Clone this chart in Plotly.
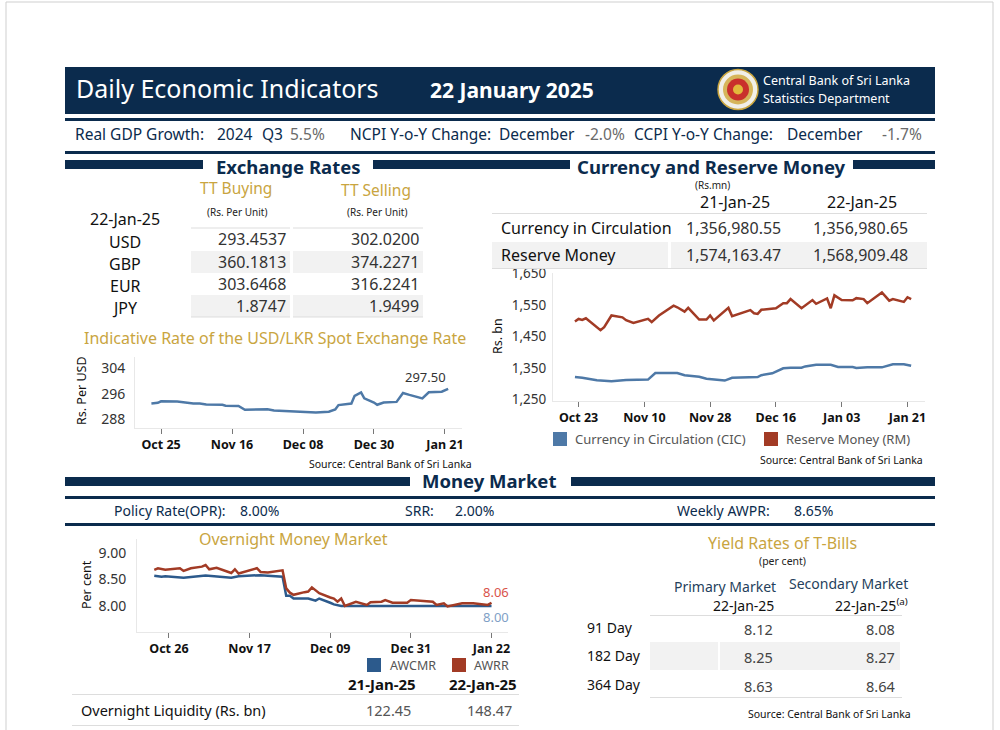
import plotly.graph_objects as go

W, H = 1000, 730
NAVY = "#0b2b4d"
GOLD = "#c9a53f"
FONT = "Noto Sans"

# ---------------- data ----------------
key_row = [("Real GDP Growth:", 73, NAVY), ("2024", 215, NAVY), ("Q3", 260, NAVY), ("5.5%", 288, "#6a6a6a"),
           ("NCPI Y-o-Y Change:", 348, NAVY), ("December", 497, NAVY), ("-2.0%", 583, "#6a6a6a"),
           ("CCPI Y-o-Y Change:", 632, NAVY), ("December", 785, NAVY), ("-1.7%", 880, "#6a6a6a")]
mm_row = [("Policy Rate(OPR):", 112), ("8.00%", 238), ("SRR:", 403), ("2.00%", 453),
          ("Weekly AWPR:", 675), ("8.65%", 792)]

fx_date = "22-Jan-25"
fx_ccy = ["USD", "GBP", "EUR", "JPY"]
tt_buying = [293.4537, 360.1813, 303.6468, 1.8747]
tt_selling = [302.0200, 374.2271, 316.2241, 1.9499]

crm_dates = ["21-Jan-25", "22-Jan-25"]
crm_labels = ["Currency in Circulation", "Reserve Money"]
crm_21 = [1356980.55, 1574163.47]
crm_22 = [1356980.65, 1568909.48]

tb_tenor = ["91 Day", "182 Day", "364 Day"]
tb_primary = [8.12, 8.25, 8.63]
tb_secondary = [8.08, 8.27, 8.64]

liq_dates = ["21-Jan-25", "22-Jan-25"]
liq_vals = [122.45, 148.47]

usd_dates = ["2024-10-22", "2024-10-24", "2024-10-25", "2024-10-30", "2024-11-04", "2024-11-06",
             "2024-11-08", "2024-11-13", "2024-11-14", "2024-11-18", "2024-11-20", "2024-11-27",
             "2024-11-29", "2024-12-06", "2024-12-12", "2024-12-16", "2024-12-18", "2024-12-19",
             "2024-12-23", "2024-12-24", "2024-12-26", "2024-12-27", "2024-12-30", "2024-12-31",
             "2025-01-02", "2025-01-06", "2025-01-08", "2025-01-10", "2025-01-14", "2025-01-16",
             "2025-01-20", "2025-01-22"]
usd_rate = [292.9, 293.1, 293.6, 293.5, 292.9, 292.9, 292.6, 292.5, 292.2, 292.1, 290.9, 291.1,
            290.7, 290.3, 290.1, 290.3, 291.0, 292.4, 292.9, 295.3, 296.4, 294.5, 293.2, 292.5,
            293.2, 293.4, 296.2, 295.6, 294.5, 296.4, 296.6, 297.5]
usd_ticks = ["2024-10-25", "2024-11-16", "2024-12-08", "2024-12-30", "2025-01-21"]
usd_ticktext = ["Oct 25", "Nov 16", "Dec 08", "Dec 30", "Jan 21"]

rm_dates = ["2024-10-22", "2024-10-23", "2024-10-24", "2024-10-25", "2024-10-29", "2024-10-30",
            "2024-11-01", "2024-11-04", "2024-11-05", "2024-11-07", "2024-11-11", "2024-11-12",
            "2024-11-14", "2024-11-18", "2024-11-19", "2024-11-21", "2024-11-22", "2024-11-25",
            "2024-11-27", "2024-11-28", "2024-11-29", "2024-12-03", "2024-12-04", "2024-12-09",
            "2024-12-10", "2024-12-11", "2024-12-12", "2024-12-16", "2024-12-18", "2024-12-19",
            "2024-12-20", "2024-12-23", "2024-12-26", "2024-12-27", "2024-12-30", "2024-12-31",
            "2025-01-01", "2025-01-03", "2025-01-06", "2025-01-07", "2025-01-09", "2025-01-10",
            "2025-01-14", "2025-01-16", "2025-01-17", "2025-01-20", "2025-01-21", "2025-01-22"]
rm_vals = [1498, 1506, 1503, 1508, 1470, 1480, 1517, 1511, 1502, 1493, 1506, 1496,
           1517, 1548, 1543, 1529, 1541, 1504, 1504, 1517, 1501, 1541, 1515, 1534,
           1524, 1522, 1535, 1540, 1556, 1556, 1569, 1540, 1566, 1554, 1571, 1540,
           1581, 1566, 1565, 1572, 1569, 1556, 1590, 1564, 1569, 1560, 1575, 1569]
cic_dates = ["2024-10-22", "2024-10-24", "2024-10-28", "2024-11-01", "2024-11-05", "2024-11-11",
             "2024-11-13", "2024-11-19", "2024-11-21", "2024-11-25", "2024-11-27", "2024-12-02",
             "2024-12-04", "2024-12-09", "2024-12-11", "2024-12-12", "2024-12-15", "2024-12-18",
             "2024-12-20", "2024-12-23", "2024-12-24", "2024-12-27", "2024-12-31", "2025-01-02",
             "2025-01-06", "2025-01-07", "2025-01-10", "2025-01-14", "2025-01-17", "2025-01-20",
             "2025-01-22"]
cic_vals = [1321, 1319, 1311, 1308, 1312, 1313, 1334, 1334, 1327, 1322, 1316, 1310,
            1319, 1319, 1321, 1327, 1333, 1349, 1351, 1351, 1355, 1360, 1360, 1353,
            1353, 1350, 1352, 1352, 1362, 1362, 1357]
crm_ticks = ["2024-10-23", "2024-11-10", "2024-11-28", "2024-12-16", "2025-01-03", "2025-01-21"]
crm_ticktext = ["Oct 23", "Nov 10", "Nov 28", "Dec 16", "Jan 03", "Jan 21"]

awrr_dates = ["2024-10-22", "2024-10-23", "2024-10-25", "2024-10-29", "2024-10-30", "2024-11-01",
              "2024-11-04", "2024-11-05", "2024-11-06", "2024-11-08", "2024-11-12", "2024-11-13",
              "2024-11-14", "2024-11-19", "2024-11-20", "2024-11-22", "2024-11-26", "2024-11-27",
              "2024-11-28", "2024-11-29", "2024-12-02", "2024-12-03", "2024-12-04", "2024-12-06",
              "2024-12-09", "2024-12-10", "2024-12-11", "2024-12-12", "2024-12-13", "2024-12-16",
              "2024-12-19", "2024-12-20", "2024-12-23", "2024-12-24", "2024-12-26", "2024-12-30",
              "2024-12-31", "2025-01-02", "2025-01-06", "2025-01-07", "2025-01-09", "2025-01-10",
              "2025-01-14", "2025-01-17", "2025-01-21", "2025-01-22"]
awrr = [8.68, 8.71, 8.68, 8.71, 8.66, 8.71, 8.74, 8.77, 8.69, 8.72, 8.62, 8.69,
        8.61, 8.71, 8.64, 8.63, 8.67, 8.33, 8.25, 8.21, 8.26, 8.27, 8.35, 8.24,
        8.16, 8.14, 8.08, 8.14, 8.00, 8.08, 8.02, 8.07, 8.08, 8.11, 8.06, 8.06,
        8.11, 8.10, 8.08, 8.02, 8.05, 7.99, 8.05, 8.05, 8.02, 8.06]
awcmr_dates = ["2024-10-22", "2024-10-24", "2024-10-25", "2024-10-30", "2024-11-05", "2024-11-12",
               "2024-11-14", "2024-11-20", "2024-11-22", "2024-11-26", "2024-11-27", "2024-11-28",
               "2024-11-29", "2024-12-03", "2024-12-05", "2024-12-06", "2024-12-09", "2024-12-10",
               "2024-12-12", "2024-12-20", "2025-01-06", "2025-01-09", "2025-01-22"]
awcmr = [8.57, 8.55, 8.56, 8.53, 8.575, 8.53, 8.56, 8.58, 8.57, 8.55, 8.19, 8.19,
         8.14, 8.14, 8.10, 8.14, 8.06, 8.03, 8.00, 8.00, 7.99, 8.00, 8.00]
om_ticks = ["2024-10-26", "2024-11-17", "2024-12-09", "2024-12-31", "2025-01-22"]
om_ticktext = ["Oct 26", "Nov 17", "Dec 09", "Dec 31", "Jan 22"]

SOURCE = "Source: Central Bank of Sri Lanka"


def px(x):
    return x / W


def py(y):
    return 1 - y / H


ann = []
shapes = []


def text(x, y, s, size=14, color="#222", anchor="left", bold=False, **kw):
    if bold:
        s = "<b>%s</b>" % s
    ann.append(dict(x=px(x), y=py(y), xref="paper", yref="paper", text=s, showarrow=False,
                    xanchor=anchor, yanchor="middle",
                    font=dict(size=size, color=color, family=FONT), **kw))


def rect(x0, y0, x1, y1, fill, line=None):
    shapes.append(dict(type="rect", xref="paper", yref="paper", x0=px(x0), x1=px(x1),
                       y0=py(y1), y1=py(y0), fillcolor=fill,
                       line=dict(width=0 if line is None else 1, color=line or fill), layer="below"))


def hline(x0, x1, y, color, width=1):
    shapes.append(dict(type="line", xref="paper", yref="paper", x0=px(x0), x1=px(x1),
                       y0=py(y), y1=py(y), line=dict(color=color, width=width)))


def vline(x, y0, y1, color, width=1):
    shapes.append(dict(type="line", xref="paper", yref="paper", x0=px(x), x1=px(x),
                       y0=py(y1), y1=py(y0), line=dict(color=color, width=width)))


def circle(cx, cy, r, fill, line=None, lw=0):
    shapes.append(dict(type="circle", xref="paper", yref="paper", x0=px(cx - r), x1=px(cx + r),
                       y0=py(cy + r), y1=py(cy - r), fillcolor=fill,
                       line=dict(color=line or fill, width=lw)))


# page frame (left, top, right edges of the sheet)
vline(6, 2, 730, "#cfcfcf")
vline(993, 2, 730, "#cfcfcf")
hline(6, 993, 2, "#cfcfcf")

# ---------------- header ----------------
rect(65, 67, 935, 114, NAVY)
text(74, 88, "Daily Economic Indicators", 25, "white")
text(428, 90, "22 January 2025", 21, "white", bold=True)
circle(738, 89.5, 20, "#f1efe8", "#c9a53f", 1.5)
circle(738, 89.5, 15, "#d6b55a")
circle(738, 89.5, 11, "#c9302c")
circle(738, 89.5, 5, "#e2b93b")
text(761, 80, "Central Bank of Sri Lanka", 12.5, "white")
text(761, 98, "Statistics Department", 12.5, "white")
hline(65, 935, 119.5, NAVY, 3)
for s, x, c in key_row:
    text(x, 134, s, 15.5, c)
hline(65, 935, 152.5, NAVY, 3)

# section bars
rect(65, 160, 203, 169, NAVY)
rect(373, 160, 570, 169, NAVY)
rect(853, 160, 935, 169, NAVY)
text(288, 166, "Exchange Rates", 18.5, NAVY, "center", True)
text(711, 166, "Currency and Reserve Money", 18.5, NAVY, "center", True)

# ---------------- exchange rate table ----------------
text(236, 188, "TT Buying", 15.5, GOLD, "center")
text(376, 190, "TT Selling", 15.5, GOLD, "center")
text(237, 212, "(Rs. Per Unit)", 10, "#222", "center")
text(377, 212, "(Rs. Per Unit)", 10, "#222", "center")
text(125, 219, fx_date, 16, "#111", "center")
fx_rows = [239.5, 262, 284, 306]
for i, (c, b, s) in enumerate(zip(fx_ccy, tt_buying, tt_selling)):
    yc = fx_rows[i]
    if i % 2 == 1:
        rect(191, yc - 11, 290, yc + 11, "#f2f2f2")
        rect(293, yc - 11, 423, yc + 11, "#f2f2f2")
    text(125, yc + 2, c, 16, "#111", "center")
    text(288, yc, "%.4f" % b, 16, "#333", "right")
    text(421, yc, "%.4f" % s, 16, "#333", "right")
for x0, x1 in [(191, 290), (293, 423)]:
    hline(x0, x1, 228, "#dddddd", 1)
    hline(x0, x1, 317, "#dddddd", 1)

# ---------------- currency table ----------------
text(712, 185, "(Rs.mn)", 10, "#222", "center")
text(735, 202, crm_dates[0], 16, "#111", "center")
text(862, 202, crm_dates[1], 16, "#111", "center")
hline(492, 927, 213.5, "#dddddd", 1)
rect(492, 242, 668, 268, "#f2f2f2")
rect(671, 242, 927, 268, "#f2f2f2")
for i, (lab, a, b) in enumerate(zip(crm_labels, crm_21, crm_22)):
    yc = 228 + i * 27
    text(499, yc, lab, 16, "#111")
    text(783, yc, "{:,.2f}".format(a), 16, "#333", "right")
    text(910, yc, "{:,.2f}".format(b), 16, "#333", "right")
hline(492, 927, 268.5, "#dddddd", 1)

# ---------------- USD chart labels ----------------
text(275, 338, "Indicative Rate of the USD/LKR Spot Exchange Rate", 16, GOLD, "center")
text(81, 391, "Rs. Per USD", 12.5, "#111", "center", textangle=-90)
text(474, 464, SOURCE, 10.5, "#111", "right")

# ---------------- currency chart labels ----------------
text(497, 336, "Rs. bn", 12.5, "#111", "center", textangle=-90)
rect(553, 432, 567, 446, "#4e79a7")
text(573, 439, "Currency in Circulation (CIC)", 13, "#555")
rect(764, 432, 778, 446, "#a23b25")
text(784, 439, "Reserve Money (RM)", 13, "#555")
text(925, 460, SOURCE, 10.5, "#111", "right")

# ---------------- money market ----------------
rect(65, 477, 410, 486, NAVY)
rect(571, 477, 935, 486, NAVY)
text(489, 480, "Money Market", 18.5, NAVY, "center", True)
hline(65, 935, 497.5, NAVY, 3)
for s, x in mm_row:
    text(x, 510, s, 14, NAVY)
hline(65, 935, 524.5, NAVY, 3)

# overnight chart labels
text(293, 539, "Overnight Money Market", 16, GOLD, "center")
text(86, 585, "Per cent", 12.5, "#111", "center", textangle=-90)
rect(367, 658, 381, 672, "#2c5a8c")
text(388, 665, "AWCMR", 12.5, "#555")
rect(452, 658, 466, 672, "#a23b25")
text(472, 665, "AWRR", 12.5, "#555")

# overnight liquidity
text(382, 684, liq_dates[0], 15, "#111", "center", True)
text(483, 684, liq_dates[1], 15, "#111", "center", True)
hline(72, 519, 694.5, "#dddddd", 1)
text(79, 710, "Overnight Liquidity (Rs. bn)", 14.5, "#111")
text(413, 710, "%.2f" % liq_vals[0], 14.5, "#555", "right")
text(514, 710, "%.2f" % liq_vals[1], 14.5, "#555", "right")
hline(72, 519, 725.5, "#dddddd", 1)

# ---------------- T-bill table ----------------
text(782, 543, "Yield Rates of T-Bills", 16, GOLD, "center")
text(782, 561, "(per cent)", 10.5, "#222", "center")
text(778, 586, "Primary Market", 14, "#253f5c", "right")
text(910, 583, "Secondary Market", 14, "#253f5c", "right")
text(776, 605, "22-Jan-25", 14, "#111", "right")
text(897, 605, "22-Jan-25<sup>(a)</sup>", 14, "#111", "left", xshift=-64)
hline(650, 902, 615.5, "#dddddd", 1)
rect(650, 642, 718, 670, "#f2f2f2")
rect(720, 642, 900, 670, "#f2f2f2")
tb_rows = [627, 655, 684]
for i, (t, p, s) in enumerate(zip(tb_tenor, tb_primary, tb_secondary)):
    text(585, tb_rows[i], t, 14, "#111")
    text(775, tb_rows[i] + 2, "%.2f" % p, 14.5, "#444", "right")
    text(897, tb_rows[i] + 2, "%.2f" % s, 14.5, "#444", "right")
hline(650, 902, 697.5, "#dddddd", 1)
text(913, 714, SOURCE, 10.5, "#111", "right")

# ---------------- figure ----------------
fig = go.Figure()
fig.add_trace(go.Scatter(x=usd_dates, y=usd_rate, mode="lines", line=dict(color="#4e79a7", width=2.5),
                         xaxis="x", yaxis="y"))
fig.add_trace(go.Scatter(x=cic_dates, y=cic_vals, mode="lines", line=dict(color="#4e79a7", width=2.5),
                         xaxis="x2", yaxis="y2"))
fig.add_trace(go.Scatter(x=rm_dates, y=rm_vals, mode="lines", line=dict(color="#a23b25", width=2.5),
                         xaxis="x2", yaxis="y2"))
fig.add_trace(go.Scatter(x=awcmr_dates, y=awcmr, mode="lines", line=dict(color="#2c5a8c", width=2.5),
                         xaxis="x3", yaxis="y3"))
fig.add_trace(go.Scatter(x=awrr_dates, y=awrr, mode="lines", line=dict(color="#a23b25", width=2.5),
                         xaxis="x3", yaxis="y3"))

# value labels at the last points
ann.append(dict(x=usd_dates[-1], y=usd_rate[-1], xref="x", yref="y", text="%.2f" % usd_rate[-1],
                showarrow=False, xanchor="right", yanchor="middle", yshift=12, xshift=0,
                font=dict(size=13, color="#333", family=FONT)))
ann.append(dict(x=awrr_dates[-1], y=awrr[-1], xref="x3", yref="y3", text="%.2f" % awrr[-1],
                showarrow=False, xanchor="center", yanchor="middle", yshift=11, xshift=4,
                font=dict(size=13, color="#d9534a", family=FONT)))
ann.append(dict(x=awcmr_dates[-1], y=awcmr[-1], xref="x3", yref="y3", text="%.2f" % awcmr[-1],
                showarrow=False, xanchor="center", yanchor="middle", yshift=-11, xshift=4,
                font=dict(size=13, color="#7f9fc6", family=FONT)))

xcommon = dict(type="date", showgrid=False, zeroline=False, showline=True, linecolor="#e8e8e8",
               ticks="outside", ticklen=5, tickcolor="#777", automargin=False,
               tickfont=dict(size=12.5, color="#111", family=FONT))
ycommon = dict(showgrid=False, zeroline=False, showline=True, linecolor="#e8e8e8", ticks="",
               automargin=False, tickfont=dict(size=14, color="#333", family=FONT))

fig.update_layout(
    width=W, height=H, margin=dict(l=0, r=0, t=0, b=0, pad=0, autoexpand=False),
    paper_bgcolor="white", plot_bgcolor="white", showlegend=False,
    font=dict(family=FONT),
    xaxis=dict(xcommon, domain=[px(135), px(462)], anchor="y",
               range=["2024-10-16 22:00", "2025-01-26 07:00"],
               tickvals=usd_ticks, ticktext=["<b>%s</b>" % t for t in usd_ticktext]),
    yaxis=dict(ycommon, domain=[py(428), py(357)], anchor="x", range=[285.2, 307.5],
               tickvals=[288, 296, 304], ticklabelstandoff=6),
    xaxis2=dict(xcommon, domain=[px(553), px(925)], anchor="y2",
                range=["2024-10-16", "2025-01-25 19:00"],
                tickvals=crm_ticks, ticktext=["<b>%s</b>" % t for t in crm_ticktext]),
    yaxis2=dict(ycommon, domain=[py(401), py(273)], anchor="x2", range=[1245, 1652],
                tickvals=[1250, 1350, 1450, 1550, 1650], tickformat=",", ticklabelstandoff=3,
                tickfont=dict(size=13.5, color="#333", family=FONT)),
    xaxis3=dict(xcommon, domain=[px(137), px(508)], anchor="y3",
                range=["2024-10-17 07:00", "2025-01-26 12:00"],
                tickvals=om_ticks, ticktext=["<b>%s</b>" % t for t in om_ticktext]),
    yaxis3=dict(ycommon, domain=[py(632), py(539)], anchor="x3", range=[7.51, 9.26],
                tickvals=[8.0, 8.5, 9.0], tickformat=".2f", ticklabelstandoff=7),
    annotations=ann, shapes=shapes,
)

# drop the default page margin so the figure sits at the window's top-left corner
fig.write_html("out.html", config={"displayModeBar": False},
               post_script="document.body.style.margin='0px';")
